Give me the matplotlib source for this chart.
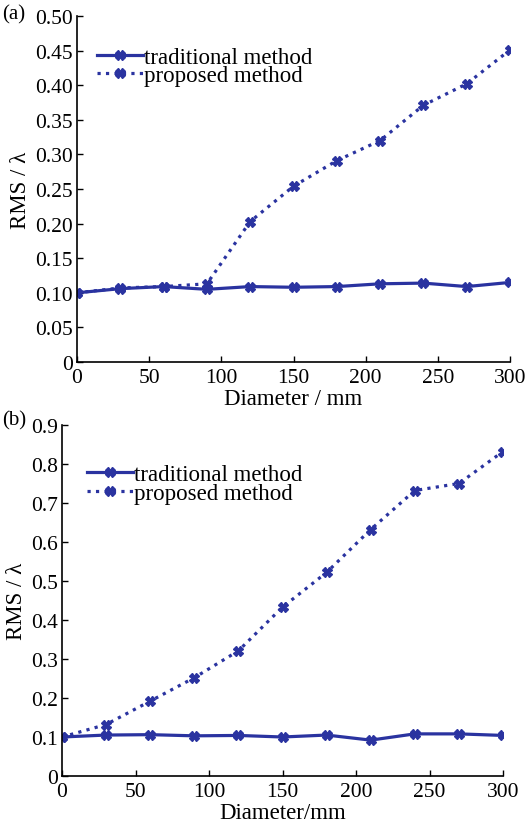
import matplotlib
matplotlib.use("Agg")
import matplotlib.pyplot as plt

diameter = [0, 30, 60, 90, 120, 150, 180, 210, 240, 270, 300]
trad_a = [0.100, 0.106, 0.109, 0.105, 0.109, 0.108, 0.109, 0.113, 0.114, 0.109, 0.115]
prop_a = [0.100, 0.107, 0.109, 0.113, 0.203, 0.254, 0.291, 0.320, 0.371, 0.402, 0.451]
trad_b = [0.100, 0.105, 0.106, 0.103, 0.104, 0.100, 0.105, 0.092, 0.108, 0.108, 0.104]
prop_b = [0.100, 0.132, 0.192, 0.252, 0.321, 0.433, 0.522, 0.632, 0.732, 0.750, 0.832]

yticks_a = [0, 0.05, 0.10, 0.15, 0.20, 0.25, 0.30, 0.35, 0.40, 0.45, 0.50]
yticklabels_a = ["0", "0.05", "0.10", "0.15", "0.20", "0.25", "0.30", "0.35", "0.40", "0.45", "0.50"]
yticks_b = [0, 0.1, 0.2, 0.3, 0.4, 0.5, 0.6, 0.7, 0.8, 0.9]
yticklabels_b = ["0", "0.1", "0.2", "0.3", "0.4", "0.5", "0.6", "0.7", "0.8", "0.9"]
xticks = [0, 50, 100, 150, 200, 250, 300]

plt.rcParams['font.family'] = ['Liberation Serif', 'DejaVu Serif']
color = '#2a33a0'
W, H = 526, 828
fig = plt.figure(figsize=(W/100, H/100), dpi=100)
FS = 16.5
TFS = 15.5

def make(ax, trad, prop, yt, ytl, ymax, xlabel, tag, tagy, legx, legy):
    ax.plot(diameter, trad, '-', color=color, lw=2.3, marker='X', ms=6.5,
            mec=color, mfc=color, label='traditional method')
    ax.plot(diameter, prop, ':', color=color, lw=2.3, marker='X', ms=6.5,
            mec=color, mfc=color, label='proposed method')
    ax.set_xlim(0, 300)
    ax.set_ylim(0, ymax)
    ax.set_xticks(xticks)
    ax.set_yticks(yt)
    ax.set_yticklabels(ytl)
    ax.tick_params(direction='in', length=4, width=1, labelsize=TFS)
    ax.tick_params(axis='x', pad=4)
    ax.tick_params(axis='y', pad=3)
    for s in ['top', 'right']:
        ax.spines[s].set_visible(False)
    for s in ['left', 'bottom']:
        ax.spines[s].set_linewidth(1.2)
    ax.set_xlabel(xlabel, fontsize=FS, labelpad=1)
    ax.set_ylabel('RMS / λ', fontsize=FS, labelpad=3)
    ax.legend(loc='upper left', bbox_to_anchor=(legx, legy), frameon=False,
              fontsize=FS, handlelength=2.0, handletextpad=0.05,
              labelspacing=-0.12, borderaxespad=0, borderpad=0)
    fig.text(2/W, 1 - tagy/H, tag, fontsize=15, va='center', ha='left')

ax1 = fig.add_axes([77/W, 1-363/H, (510-77)/W, (363-17)/H])
make(ax1, trad_a, prop_a, yticks_a, yticklabels_a, 0.5, 'Diameter / mm', '(a)', 15,
     0.046, 0.91)
ax2 = fig.add_axes([62/W, 1-777/H, (503-62)/W, (777-426)/H])
make(ax2, trad_b, prop_b, yticks_b, yticklabels_b, 0.9, 'Diameter/mm', '(b)', 421,
     0.057, 0.888)

fig.savefig('out.png', dpi=100)
